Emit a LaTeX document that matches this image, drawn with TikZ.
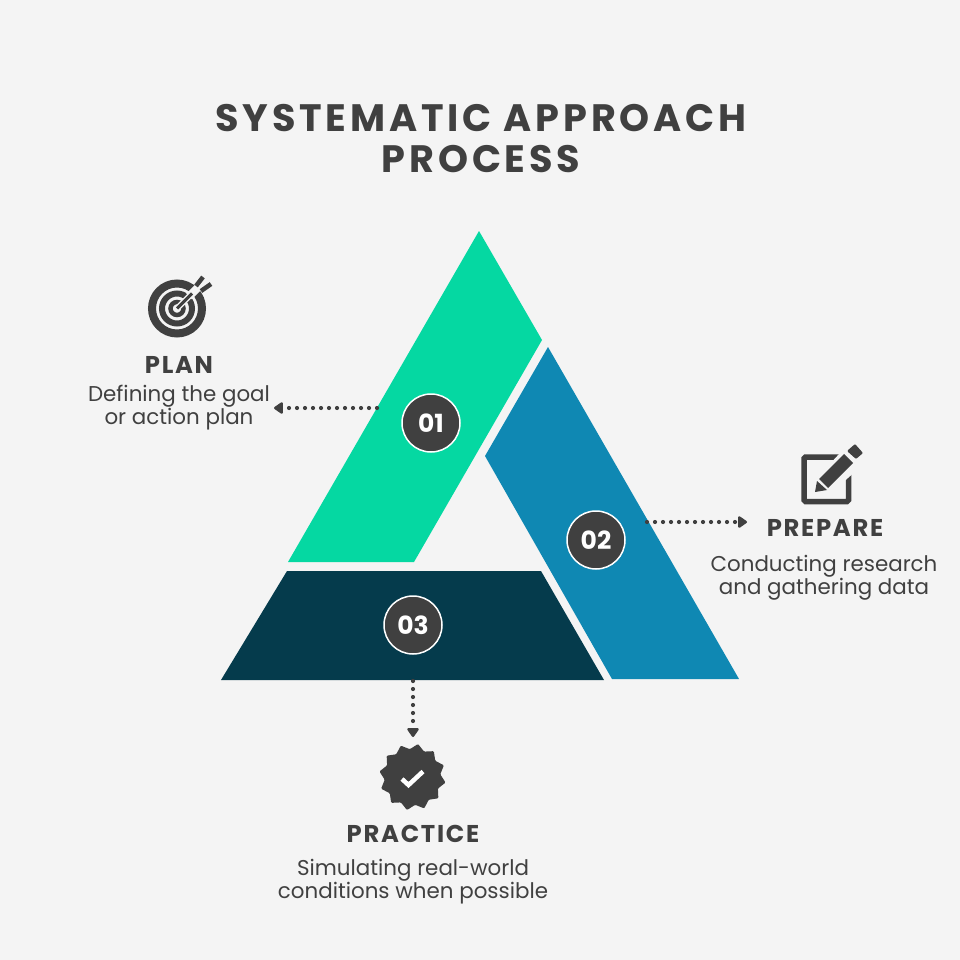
\documentclass[tikz,border=0pt]{standalone}
\usepackage{fontspec}
\setmainfont{Poppins}
\newfontfamily\spacedfont[LetterSpace=10]{Poppins}
\newfontfamily\labelfont[LetterSpace=7]{Poppins}
\usetikzlibrary{arrows.meta,shapes.geometric}
\definecolor{pagegrey}{HTML}{F4F4F4}
\definecolor{inkgrey}{HTML}{404040}
\definecolor{plangreen}{HTML}{05D8A2}
\definecolor{prepblue}{HTML}{0F88B3}
\definecolor{practnavy}{HTML}{053B4C}

\begin{document}
\begin{tikzpicture}[x=1pt,y=-1pt,>={Triangle[round,length=10pt,width=13pt]}]
\tikzstyle{headline}=[text=inkgrey,font=\fontsize{38.2}{41}\selectfont\spacedfont\bfseries,align=center]
\tikzstyle{numdot}=[circle,draw=white,line width=1.5pt,fill=inkgrey,text=white,minimum size=58pt,inner sep=0pt,font=\fontsize{25}{25}\selectfont\bfseries]
\tikzstyle{steplabel}=[text=inkgrey,font=\fontsize{24.3}{24}\selectfont\labelfont\bfseries]
\tikzstyle{stepbody}=[text=inkgrey,font=\fontsize{21.4}{23.3}\selectfont,align=center]
\tikzstyle{dotline}=[->,inkgrey,line width=4.2pt,line cap=round,dash pattern=on 0pt off 8pt]
\fill[pagegrey] (0,0) rectangle (960,960);
\useasboundingbox (0,0) rectangle (960,960);
\node[headline] (title) at (481,138.5) {SYSTEMATIC APPROACH\\PROCESS};
\fill[plangreen] (479,231)--(542,340)--(414,562)--(288,562)--cycle;
\fill[prepblue] (548,347)--(739,679)--(612,679)--(485,456)--cycle;
\fill[practnavy] (287,571)--(541,571)--(604,680)--(221,680)--cycle;
\node[numdot] (n1) at (431,423) {01};
\node[numdot] (n2) at (596,540) {02};
\node[numdot] (n3) at (413,625) {03};
\node[steplabel] (plan) at (179,364.5) {PLAN};
\node[stepbody] (planb) at (179,407.5) {Defining the goal\\or action plan};
\node[steplabel] (prep) at (825,527.5) {PREPARE};
\node[stepbody] (prepb) at (824,578) {Conducting research\\and gathering data};
\node[steplabel] (pract) at (413,833.5) {PRACTICE};
\node[stepbody] (practb) at (413,881.5) {Simulating real-world\\conditions when possible};
\coordinate (a1) at (377,408); \coordinate (b1) at (274,408);
\coordinate (a2) at (647,522); \coordinate (b2) at (747,522);
\coordinate (a3) at (413,681); \coordinate (b3) at (413,737);
\draw[dotline] (a1)--(b1); \draw[dotline] (a2)--(b2); \draw[dotline] (a3)--(b3);
% target
\draw[inkgrey,line width=8pt] (177,308.5) circle (25);
\draw[inkgrey,line width=6pt] (177,308.5) circle (15);
\draw[inkgrey,line width=4.5pt] (177,308.5) circle (6.5);
\draw[pagegrey,line width=8pt] (189,296.5)--(206,279.5);
\draw[pagegrey,line width=6pt] (178,307.5)--(192,293.5);
\draw[inkgrey,line width=3pt] (177,308.5)--(192,293.5);
\draw[inkgrey,line width=4.5pt] (196,286)--(203,277);
\draw[inkgrey,line width=4.5pt] (201,291)--(211,284);
% pencil
\draw[inkgrey,line width=5.5pt,rounded corners=1.5pt] (848.5,472)--(848.5,501.5)--(804,501.5)--(804,457)--(840,457);
\fill[inkgrey,rounded corners=1pt] (847,451)--(855,444)--(863,453)--(856,459)--cycle;
\fill[pagegrey] (840,453)--(857,470)--(830,494)--(815,480)--cycle;
\fill[inkgrey] (844,454)--(853,463)--(828,488)--(819,479)--cycle;
\fill[inkgrey] (817,481)--(827,490)--(815,492)--cycle;
% badge
\node[star,star points=12,star point ratio=1.2,minimum size=67pt,inner sep=0pt,fill=inkgrey,rounded corners=1pt,rotate=-9.5] (badge) at (412.5,777) {};
\draw[white,line width=4.5pt] (402,779)--(408.5,785)--(423,771.5);
\end{tikzpicture}
\end{document}
